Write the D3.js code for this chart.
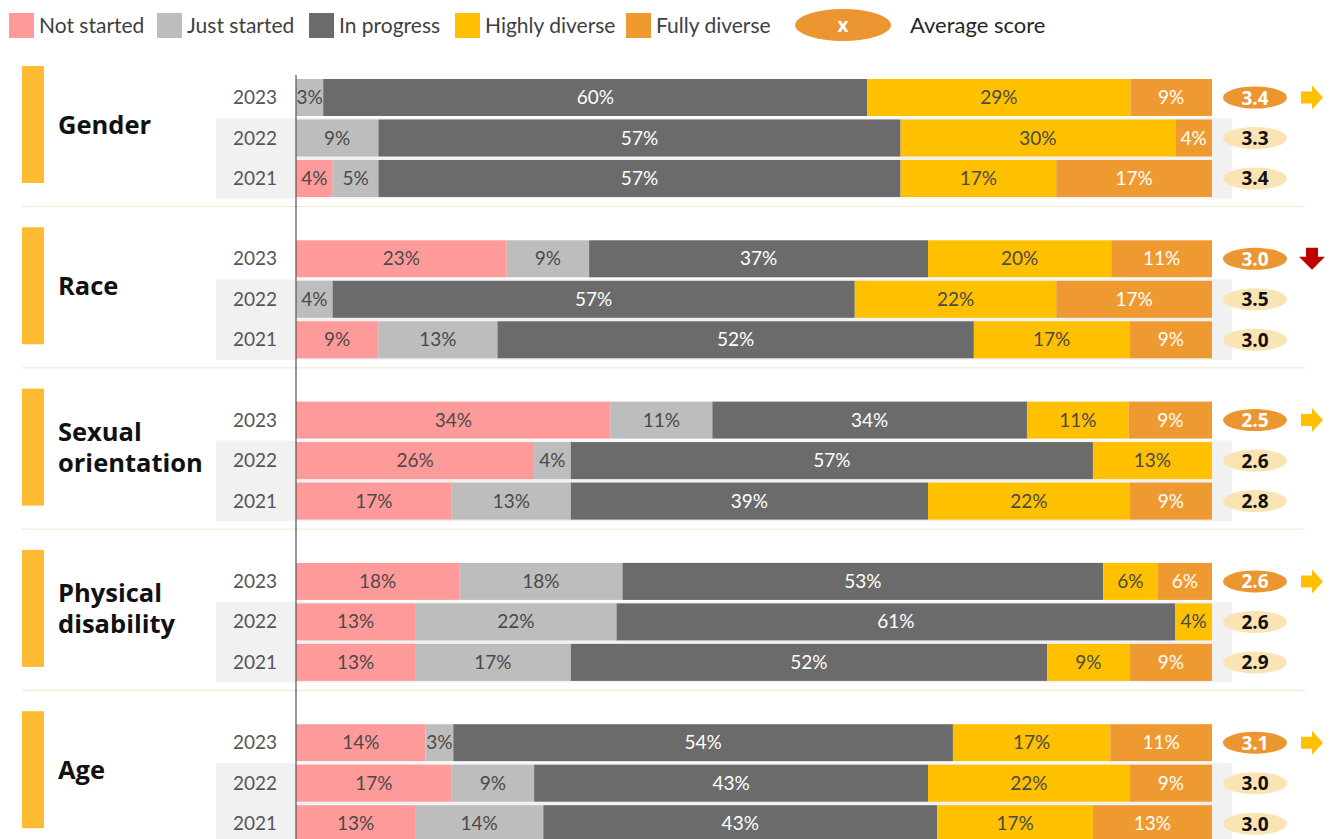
<!DOCTYPE html>
<html>
<head>
<meta charset="utf-8">
<script src="https://cdn.jsdelivr.net/npm/d3@7/dist/d3.min.js"></script>
<style>
  html, body { margin: 0; padding: 0; background: #fff; }
  svg { display: block; }
</style>
</head>
<body>
<svg id="chart" width="1333" height="839"></svg>
<script>
// Diversity maturity by dimension, survey years 2021-2023
const categories = ["Gender", "Race", "Sexual orientation", "Physical disability", "Age"];
const categoryLines = [["Gender"], ["Race"], ["Sexual", "orientation"], ["Physical", "disability"], ["Age"]];
const years = ["2023", "2022", "2021"];
const stages = ["Not started", "Just started", "In progress", "Highly diverse", "Fully diverse"];

// share of respondents (%) per category, rows ordered 2023, 2022, 2021
const notStarted    = [[0, 0, 4],   [23, 0, 9],   [34, 26, 17], [18, 13, 13], [14, 17, 13]];
const justStarted   = [[3, 9, 5],   [9, 4, 13],   [11, 4, 13],  [18, 22, 17], [3, 9, 14]];
const inProgress    = [[60, 57, 57],[37, 57, 52], [34, 57, 39], [53, 61, 52], [54, 43, 43]];
const highlyDiverse = [[29, 30, 17],[20, 22, 17], [11, 13, 22], [6, 4, 9],    [17, 22, 17]];
const fullyDiverse  = [[9, 4, 17],  [11, 17, 9],  [9, 0, 9],    [6, 0, 9],    [11, 9, 13]];

const averageScores = [[3.4, 3.3, 3.4], [3.0, 3.5, 3.0], [2.5, 2.6, 2.8], [2.6, 2.6, 2.9], [3.1, 3.0, 3.0]];
const trends = ["flat", "down", "flat", "flat", "flat"];

const stageSeries = [notStarted, justStarted, inProgress, highlyDiverse, fullyDiverse];
const stageColors = ["#FF9A9A", "#BDBDBD", "#6B6B6B", "#FFC000", "#EE9A30"];
const labelColors = ["#4a4a4a", "#4a4a4a", "#ffffff", "#4a4a4a", "#ffffff"];

const font = "Lato, 'Open Sans', sans-serif";
const boldFont = "'Open Sans', Lato, sans-serif";

// one record per category/year row
const rows = [];
categories.forEach((c, ci) => {
  years.forEach((y, yi) => {
    const r = { category: c, ci, year: y, yi, score: averageScores[ci][yi] };
    stages.forEach((s, si) => { r[s] = stageSeries[si][ci][yi]; });
    rows.push(r);
  });
});

const stacked = d3.stack().keys(stages).offset(d3.stackOffsetExpand)(rows);

const svg = d3.select("#chart");

const x = d3.scaleLinear().domain([0, 1]).range([296, 1212]);
const groupY = d3.scaleBand().domain(categories).range([79, 79 + 5 * 161.3]).padding(0);
const rowY = d3.scaleBand().domain(years).range([0, 118]).paddingInner(0.086).paddingOuter(0);
const rowTop = d => groupY(d.category) + rowY(d.year);
const bh = rowY.bandwidth();

// ---- legend ----
const legend = svg.append("g");
const legendX = [9, 157, 309, 455, 626];
stages.forEach((s, i) => {
  legend.append("rect").attr("x", legendX[i]).attr("y", 13).attr("width", 25).attr("height", 25)
    .attr("fill", stageColors[i]);
  legend.append("text").attr("x", legendX[i] + 30).attr("y", 33)
    .attr("font-family", font).attr("font-size", 21).attr("fill", "#404040").text(s);
});
legend.append("ellipse").attr("cx", 843).attr("cy", 25).attr("rx", 48).attr("ry", 16).attr("fill", "#EB9630");
legend.append("text").attr("x", 843).attr("y", 32).attr("text-anchor", "middle")
  .attr("font-family", boldFont).attr("font-weight", 700).attr("font-size", 19).attr("fill", "#fff").text("x");
legend.append("text").attr("x", 910).attr("y", 33)
  .attr("font-family", font).attr("font-size", 22).attr("fill", "#262626").text("Average score");

// ---- grey band behind the two earlier years ----
svg.append("g").selectAll("rect").data(categories).join("rect")
  .attr("x", 216).attr("width", 1232 - 216)
  .attr("y", c => groupY(c) + rowY("2022") - 1.5)
  .attr("height", c => rowY("2021") + bh - rowY("2022") + 3)
  .attr("fill", "#F1F1F1");

// ---- separators ----
svg.append("g").selectAll("line").data(categories.slice(0, -1)).join("line")
  .attr("x1", 22).attr("x2", 1305)
  .attr("y1", c => groupY(c) + 127.5).attr("y2", c => groupY(c) + 127.5)
  .attr("stroke", "#EDEDD5").attr("stroke-width", 1.2);

// ---- category markers and names ----
const markerTop = c => groupY(c) - 13;
const cat = svg.append("g").selectAll("g").data(categories).join("g");
cat.append("rect").attr("x", 22).attr("width", 22)
  .attr("y", markerTop).attr("height", 117).attr("fill", "#FBBC32");
cat.each(function (c, i) {
  const lines = categoryLines[i];
  const mid = markerTop(c) + 58.5;
  const lh = 31;
  d3.select(this).selectAll("text.cat").data(lines).join("text")
    .attr("class", "cat")
    .attr("x", 58)
    .attr("y", (l, li) => mid + (li - (lines.length - 1) / 2) * lh + 9)
    .attr("font-family", boldFont).attr("font-weight", 700).attr("font-size", 25.5)
    .attr("fill", "#111").text(l => l);
});

// ---- year labels ----
svg.append("g").selectAll("text").data(rows).join("text")
  .attr("x", 277).attr("y", d => rowTop(d) + bh / 2 + 6.5)
  .attr("text-anchor", "end").attr("font-family", font).attr("font-size", 19)
  .attr("fill", "#555").text(d => d.year);

// ---- stacked bars ----
const layers = svg.append("g").selectAll("g").data(stacked).join("g")
  .attr("fill", (d, i) => stageColors[i]);
layers.selectAll("rect").data(d => d).join("rect")
  .attr("x", d => x(d[0])).attr("width", d => Math.max(0, x(d[1]) - x(d[0])))
  .attr("y", d => rowTop(d.data)).attr("height", bh);

// ---- segment labels ----
const lab = svg.append("g").selectAll("g").data(stacked).join("g");
lab.each(function (layer, li) {
  d3.select(this).selectAll("text").data(layer.filter(d => d.data[layer.key] > 0)).join("text")
    .attr("x", d => (x(d[0]) + x(d[1])) / 2)
    .attr("y", d => rowTop(d.data) + bh / 2 + 6.5)
    .attr("text-anchor", "middle").attr("font-family", font).attr("font-size", 19)
    .attr("fill", labelColors[li]).text(d => d.data[layer.key] + "%");
});

// ---- vertical baseline ----
svg.append("line").attr("x1", x(0)).attr("x2", x(0)).attr("y1", 75).attr("y2", 839)
  .attr("stroke", "#555").attr("stroke-width", 1.2);

// ---- average score badges ----
const badge = svg.append("g").selectAll("g").data(rows).join("g")
  .attr("transform", d => `translate(1255,${rowTop(d) + bh / 2})`);
badge.append("ellipse").attr("rx", 32).attr("ry", 11)
  .attr("fill", d => d.year === "2023" ? "#EB9630" : "#FBE4B4");
badge.append("text").attr("y", 7).attr("text-anchor", "middle")
  .attr("font-family", boldFont).attr("font-weight", 700).attr("font-size", 19)
  .attr("fill", d => d.year === "2023" ? "#fff" : "#111")
  .text(d => d3.format(".1f")(d.score));

// ---- trend arrows ----
svg.append("g").selectAll("path").data(categories).join("path")
  .attr("transform", c => `translate(1312,${groupY(c) + rowY("2023") + bh / 2})`)
  .attr("d", (c, i) => trends[i] === "down"
    ? "M-6,-11 L6,-11 L6,-2 L13,-2 L0,11 L-13,-2 L-6,-2 Z"
    : "M-11,-6 L0,-6 L0,-12 L11,0 L0,12 L0,6 L-11,6 Z")
  .attr("fill", (c, i) => trends[i] === "down" ? "#C00000" : "#FFC000");
</script>
</body>
</html>
